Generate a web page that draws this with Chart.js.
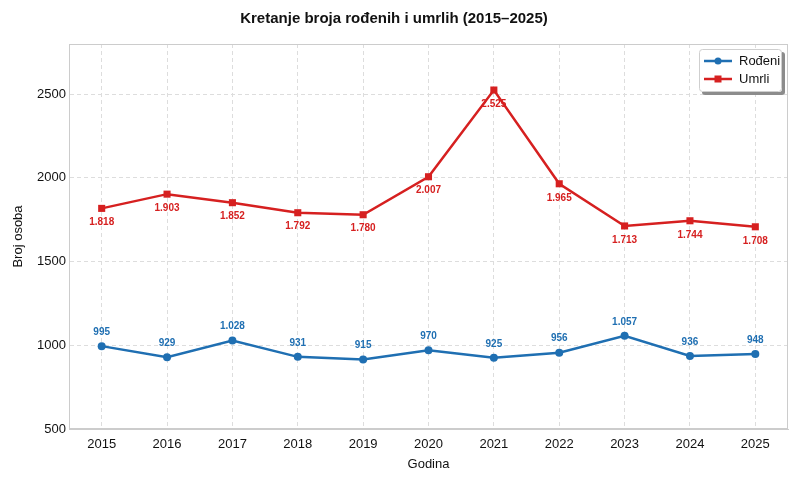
<!DOCTYPE html>
<html>
<head>
<meta charset="utf-8">
<script src="https://cdn.jsdelivr.net/npm/chart.js@4/dist/chart.umd.min.js"></script>
<style>
  html, body { margin: 0; padding: 0; background: #fff; }
  #wrap { width: 800px; height: 480px; }
</style>
</head>
<body>
<div id="wrap"><canvas id="chart" width="800" height="480"></canvas></div>
<script>
const years = ["2015", "2016", "2017", "2018", "2019", "2020", "2021", "2022", "2023", "2024", "2025"];
const rodeni = [995, 929, 1028, 931, 915, 970, 925, 956, 1057, 936, 948];
const umrli = [1818, 1903, 1852, 1792, 1780, 2007, 2525, 1965, 1713, 1744, 1708];
const yTicks = [500, 1000, 1500, 2000, 2500];

const BLUE = "#1f6fb2";
const RED = "#d62020";
const FONT = "'Liberation Sans', Arial, sans-serif";

function formatNum(v) {
  return String(v).replace(/\B(?=(\d{3})+(?!\d))/g, ".");
}

// okvir oko grafikona
const framePlugin = {
  id: "frame",
  afterDatasetsDraw(chart) {
    const { ctx, chartArea: a } = chart;
    ctx.save();
    ctx.strokeStyle = "#cccccc";
    ctx.lineWidth = 1;
    ctx.strokeRect(a.left + 0.5, a.top + 0.5, a.right - a.left - 1, a.bottom - a.top - 1);
    ctx.restore();
  },
};

// oznake vrijednosti
const labelPlugin = {
  id: "valueLabels",
  afterDatasetsDraw(chart) {
    const { ctx } = chart;
    ctx.save();
    ctx.font = "bold 10px " + FONT;
    ctx.textAlign = "center";
    chart.data.datasets.forEach((ds, i) => {
      const meta = chart.getDatasetMeta(i);
      ctx.fillStyle = ds.borderColor;
      meta.data.forEach((pt, j) => {
        const txt = formatNum(ds.data[j]);
        if (ds.labelBelow) {
          ctx.textBaseline = "top";
          ctx.fillText(txt, pt.x, pt.y + 9);
        } else {
          ctx.textBaseline = "bottom";
          ctx.fillText(txt, pt.x, pt.y - 9);
        }
      });
    });
    ctx.restore();
  },
};

function roundRect(ctx, x, y, w, h, r) {
  ctx.beginPath();
  ctx.moveTo(x + r, y);
  ctx.arcTo(x + w, y, x + w, y + h, r);
  ctx.arcTo(x + w, y + h, x, y + h, r);
  ctx.arcTo(x, y + h, x, y, r);
  ctx.arcTo(x, y, x + w, y, r);
  ctx.closePath();
}

// legenda u gornjem desnom uglu
const legendPlugin = {
  id: "boxLegend",
  afterDraw(chart) {
    const { ctx, chartArea: a } = chart;
    const w = 83, h = 43;
    const x = a.right - w - 6, y = a.top + 5;
    ctx.save();
    ctx.fillStyle = "#8c8c8c";
    roundRect(ctx, x + 3, y + 3, w, h, 3);
    ctx.fill();
    ctx.fillStyle = "#fff";
    roundRect(ctx, x, y, w, h, 3);
    ctx.fill();
    ctx.strokeStyle = "#cfcfcf";
    ctx.lineWidth = 1;
    roundRect(ctx, x + 0.5, y + 0.5, w - 1, h - 1, 3);
    ctx.stroke();
    ctx.font = "13px " + FONT;
    ctx.textBaseline = "middle";
    chart.data.datasets.forEach((ds, i) => {
      const cy = y + 12 + i * 18;
      ctx.strokeStyle = ds.borderColor;
      ctx.lineWidth = 2.5;
      ctx.beginPath();
      ctx.moveTo(x + 5, cy);
      ctx.lineTo(x + 33, cy);
      ctx.stroke();
      ctx.fillStyle = ds.borderColor;
      if (ds.pointStyle === "rect") {
        ctx.fillRect(x + 19 - 3.5, cy - 3.5, 7, 7);
      } else {
        ctx.beginPath();
        ctx.arc(x + 19, cy, 3.5, 0, Math.PI * 2);
        ctx.fill();
      }
      ctx.fillStyle = "#111";
      ctx.textAlign = "left";
      ctx.fillText(ds.label, x + 40, cy);
    });
    ctx.restore();
  },
};

new Chart(document.getElementById("chart"), {
  type: "line",
  data: {
    labels: years,
    datasets: [
      {
        label: "Rođeni",
        data: rodeni,
        borderColor: BLUE,
        backgroundColor: BLUE,
        borderWidth: 2.5,
        pointStyle: "circle",
        pointRadius: 4,
        pointBorderWidth: 0,
        pointHoverRadius: 4,
        tension: 0,
        labelBelow: false,
      },
      {
        label: "Umrli",
        data: umrli,
        borderColor: RED,
        backgroundColor: RED,
        borderWidth: 2.5,
        pointStyle: "rect",
        pointRadius: 5,
        pointBorderWidth: 0,
        pointHoverRadius: 5,
        tension: 0,
        labelBelow: true,
      },
    ],
  },
  options: {
    responsive: false,
    animation: false,
    layout: { padding: { top: 0, right: 12, bottom: 0, left: 0 } },
    plugins: {
      legend: { display: false },
      tooltip: { enabled: false },
      title: {
        display: true,
        text: "Kretanje broja rođenih i umrlih (2015–2025)",
        color: "#111",
        font: { family: FONT, size: 15, weight: "bold" },
        padding: { top: 10, bottom: 16 },
      },
    },
    scales: {
      x: {
        offset: true,
        grid: { color: "#dddddd", drawTicks: false, offset: false },
        border: { color: "#cccccc", dash: [4, 3] },
        ticks: { color: "#111", font: { family: FONT, size: 13 }, padding: 8 },
        title: {
          display: true,
          text: "Godina",
          color: "#111",
          font: { family: FONT, size: 13 },
          padding: { top: 4, bottom: 8 },
        },
        afterFit(scale) { scale.height = 51; },
      },
      y: {
        min: 500,
        max: 2800,
        afterBuildTicks(scale) {
          scale.ticks = yTicks.map((v) => ({ value: v }));
        },
        grid: { color: "#dddddd", drawTicks: false },
        border: { color: "#cccccc", dash: [4, 3] },
        ticks: {
          color: "#111",
          font: { family: FONT, size: 13 },
          padding: 3,
          callback: (v) => String(v),
        },
        title: {
          display: true,
          text: "Broj osoba",
          color: "#111",
          font: { family: FONT, size: 13 },
          padding: { top: 11, bottom: 6 },
        },
        afterFit(scale) { scale.width = 69; },
      },
    },
  },
  plugins: [framePlugin, labelPlugin, legendPlugin],
});
</script>
</body>
</html>
